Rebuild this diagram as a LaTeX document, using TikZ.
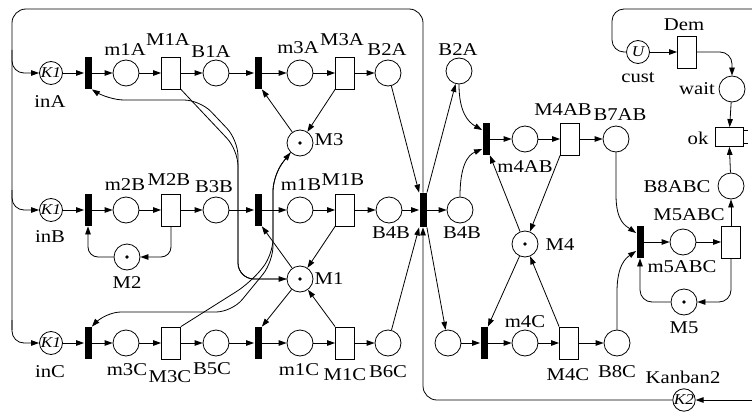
\documentclass[tikz,border=0pt]{standalone}
\usepackage{fontspec}
\setmainfont{Liberation Serif}[FakeStretch=1.15]
\usetikzlibrary{arrows.meta,calc}
\begin{document}
\begin{tikzpicture}[x=1pt,y=-1pt,line width=0.8pt,
  place/.style={circle,draw,minimum size=26pt,inner sep=0pt},
  tokplace/.style={place,path picture={\fill (path picture bounding box.center) circle (1.8pt);}},
  kplace/.style={circle,draw,minimum size=23pt,inner sep=0pt,font=\fontsize{15}{15}\selectfont\itshape},
  bar/.style={fill=black,draw=none,minimum width=7pt,minimum height=32pt,inner sep=0pt},
  trans/.style={draw,minimum width=19pt,minimum height=32pt,inner sep=0pt},
  htrans/.style={draw,minimum width=28pt,minimum height=19pt,inner sep=0pt},
  lbl/.style={font=\fontsize{18}{18}\selectfont,inner sep=0pt},
  arr/.style={-{Triangle[length=8pt,width=5.5pt]}},
]
\useasboundingbox (0,0) rectangle (752,412);
% row A
\node[kplace] (inA) at (51,73) {K1};
\node[bar] (tA1) at (88,73) {};
\node[place] (m1A) at (126,73) {};
\node[trans] (M1A) at (171,73) {};
\node[place] (B1A) at (216,73) {};
\node[bar] (tA2) at (258,73) {};
\node[place] (m3A) at (300,73) {};
\node[trans] (M3A) at (345,73) {};
\node[place] (B2A) at (388,73) {};
% row B
\node[kplace] (inB) at (51,210) {K1};
\node[bar] (tB1) at (88,210) {};
\node[place] (m2B) at (126,210) {};
\node[trans] (M2B) at (171,210) {};
\node[place] (B3B) at (216,210) {};
\node[bar] (tB2) at (258,210) {};
\node[place] (m1B) at (300,210) {};
\node[trans] (M1B) at (345,210) {};
\node[place] (B4B) at (389,210) {};
\node[bar,minimum height=34pt] (join) at (423,210) {};
\node[place] (B4Bb) at (460,210) {};
% row C
\node[kplace] (inC) at (51,343) {K1};
\node[bar] (tC1) at (88,343) {};
\node[place] (m3C) at (126,343) {};
\node[trans] (M3C) at (171,343) {};
\node[place] (B5C) at (216,343) {};
\node[bar] (tC2) at (258,343) {};
\node[place] (m1C) at (300,343) {};
\node[trans] (M1C) at (345,343) {};
\node[place] (B6C) at (388,343) {};
\node[place] (P) at (448,343) {};
\node[bar] (tm4C) at (484,343) {};
\node[place] (m4C) at (525,343) {};
\node[trans] (M4C) at (569,343) {};
\node[place] (B8C) at (617,343) {};
% resources
\node[tokplace] (M3) at (300,143) {};
\node[tokplace] (M1) at (300,279) {};
\node[tokplace] (M2) at (127,257) {};
\node[tokplace] (M4) at (525,244) {};
\node[tokplace] (M5) at (684,302) {};
% right part
\node[place] (B2Ab) at (459,71) {};
\node[bar] (tm4AB) at (486,139) {};
\node[place] (m4AB) at (525,139) {};
\node[trans] (M4AB) at (570,139) {};
\node[place] (B7AB) at (616,139) {};
\node[bar] (tm5) at (640,242) {};
\node[place] (P5) at (683,242) {};
\node[trans] (M5ABC) at (731,242) {};
\node[place] (B8ABC) at (731,186) {};
\node[htrans] (ok) at (729,137) {};
\node[place] (wait) at (732,89) {};
\node[trans] (Dem) at (687,52) {};
\node[kplace] (cust) at (638,52) {U};
\node[kplace,minimum size=22pt] (K2) at (684,400) {K2};
% labels
\node[lbl] at (50,102) {inA};
\node[lbl] at (125,50) {m1A};
\node[lbl] at (168,40) {M1A};
\node[lbl] at (211,52) {B1A};
\node[lbl] at (298,48) {m3A};
\node[lbl] at (342,40) {M3A};
\node[lbl] at (387,50) {B2A};
\node[lbl] at (458,50) {B2A};
\node[lbl] at (50,237) {inB};
\node[lbl] at (125,185) {m2B};
\node[lbl] at (169,180) {M2B};
\node[lbl] at (214,187) {B3B};
\node[lbl] at (301,185) {m1B};
\node[lbl] at (343,180) {M1B};
\node[lbl] at (391,233) {B4B};
\node[lbl] at (462,233) {B4B};
\node[lbl] at (50,372) {inC};
\node[lbl] at (127,370) {m3C};
\node[lbl] at (170,377) {M3C};
\node[lbl] at (212,369) {B5C};
\node[lbl] at (299,370) {m1C};
\node[lbl] at (345,375) {M1C};
\node[lbl] at (388,372) {B6C};
\node[lbl] at (329,140) {M3};
\node[lbl] at (329,279) {M1};
\node[lbl] at (127,283) {M2};
\node[lbl] at (563,110) {M4AB};
\node[lbl] at (620,115) {B7AB};
\node[lbl] at (525,167) {m4AB};
\node[lbl] at (560,245) {M4};
\node[lbl] at (525,322) {m4C};
\node[lbl] at (568,375) {M4C};
\node[lbl] at (617,372) {B8C};
\node[lbl] at (683,377) {Kanban2};
\node[lbl] at (684,328) {M5};
\node[lbl] at (689,215) {M5ABC};
\node[lbl] at (682,267) {m5ABC};
\node[lbl] at (677,187) {B8ABC};
\node[lbl] at (698,138) {ok};
\node[lbl] at (697,89) {wait};
\node[lbl] at (684,25) {Dem};
\node[lbl] at (638,78) {cust};
% row arcs
\draw[arr] (inA) -- (tA1);
\draw[arr] (tA1) -- (m1A);
\draw[arr] (m1A) -- (M1A);
\draw[arr] (M1A) -- (B1A);
\draw[arr] (B1A) -- (tA2);
\draw[arr] (tA2) -- (m3A);
\draw[arr] (m3A) -- (M3A);
\draw[arr] (M3A) -- (B2A);
\draw[arr] (inB) -- (tB1);
\draw[arr] (tB1) -- (m2B);
\draw[arr] (m2B) -- (M2B);
\draw[arr] (M2B) -- (B3B);
\draw[arr] (B3B) -- (tB2);
\draw[arr] (tB2) -- (m1B);
\draw[arr] (m1B) -- (M1B);
\draw[arr] (M1B) -- (B4B);
\draw[arr] (B4B) -- (join);
\draw[arr] (join) -- (B4Bb);
\draw[arr] (inC) -- (tC1);
\draw[arr] (tC1) -- (m3C);
\draw[arr] (m3C) -- (M3C);
\draw[arr] (M3C) -- (B5C);
\draw[arr] (B5C) -- (tC2);
\draw[arr] (tC2) -- (m1C);
\draw[arr] (m1C) -- (M1C);
\draw[arr] (M1C) -- (B6C);
\draw[arr] (P) -- (tm4C);
\draw[arr] (tm4C) -- (m4C);
\draw[arr] (m4C) -- (M4C);
\draw[arr] (M4C) -- (B8C);
% join
\draw[arr] (B2A) -- (join.north west);
\draw[arr] (join.north east) -- (B2Ab);
\draw[arr] (B6C) -- (join.south west);
\draw[arr] (join.south east) -- (P);
\draw[rounded corners=14pt] (join.north) -- (423,9) -- (12,9) -- (12,330);
\draw[arr,rounded corners=12pt] (12,320) -- (12,343) -- (inC);
\draw[arr,rounded corners=12pt] (12,50) -- (12,73) -- (inA);
\draw[arr,rounded corners=12pt] (12,190) -- (12,210) -- (inB);
\draw[arr,rounded corners=14pt] (K2) -- (423,400) -- (join.south);
\draw[arr] (752,400) -- (K2);
% resources left
\draw[arr] (M3) -- (tA2.south east);
\draw[arr] (M3A.south west) -- (M3);
\draw[arr] (M1) -- (tB2.south east);
\draw[arr] (M1B.south west) -- (M1);
\draw[arr] (M1) -- (tC2.north east);
\draw[arr] (M1C.north west) -- (M1);
\draw[arr,rounded corners=10pt] (M2B.south) |- (M2.east);
\draw[arr,rounded corners=10pt] (M2.west) -| (tB1.south);
\draw[arr,rounded corners=16pt] (M1A.south east) -- (238,150) -- (238,279) -- (M1.west);
\draw[arr,rounded corners=16pt] (M1.west) -- (238,279) -- (238,140) -- (200,100) -- (108,100) -- (tA1.south east);
\draw[arr,rounded corners=16pt] (M3C.north east) -- (250,283) -- (273,255) -- (273,175) -- (M3.south west);
\draw[arr,rounded corners=16pt] (M3.south west) -- (273,175) -- (273,262) -- (232,312) -- (105,312) -- (tC1.north east);
% right part arcs
\draw[arr] (B2Ab.south) .. controls (459,112) and (468,122) .. ($(tm4AB.west)+(0,-9)$);
\draw[arr] (B4Bb.north) .. controls (460,165) and (468,155) .. ($(tm4AB.west)+(0,10)$);
\draw[arr] (tm4AB) -- (m4AB);
\draw[arr] (m4AB) -- (M4AB);
\draw[arr] (M4AB) -- (B7AB);
\draw[arr] (M4) -- (tm4AB.south east);
\draw[arr] (M4AB.south west) -- (M4);
\draw[arr] (M4) -- (tm4C.north east);
\draw[arr] (M4C.north west) -- (M4);
\draw[arr] (B7AB.south) -- (616,195) .. controls (616,222) and (626,226) .. ($(tm5.west)+(0,-9)$);
\draw[arr] (B8C.north) -- (617,292) .. controls (617,265) and (626,258) .. ($(tm5.west)+(0,9)$);
\draw[arr] (tm5) -- (P5);
\draw[arr] (P5) -- (M5ABC);
\draw[arr] (M5ABC) -- (B8ABC);
\draw[arr] (B8ABC) -- (ok);
\draw[arr] (wait) -- (ok);
\draw[arr,rounded corners=12pt] (M5.west) -| (tm5.south);
\draw[arr,rounded corners=12pt] (M5ABC.south) |- (M5.east);
\draw[arr] (cust) -- (Dem);
\draw[arr,rounded corners=12pt] (Dem.east) -| (wait.north);
\draw[rounded corners=12pt] (cust.west) -| (612,9) -- (752,9);
\draw ($(ok.east)+(0,-7)$) -- (748,130);
\draw ($(ok.east)+(0,6)$) -- (748,143);
\end{tikzpicture}
\end{document}
